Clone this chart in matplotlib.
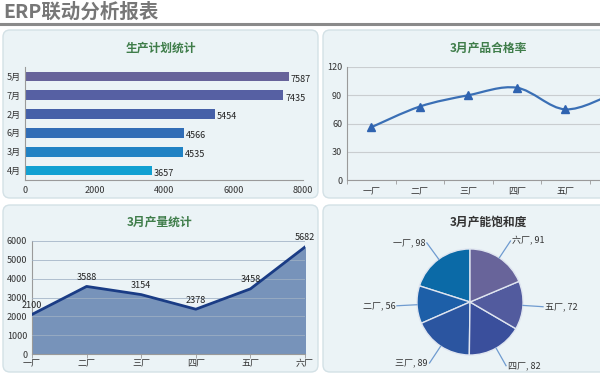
import numpy as np
import matplotlib
matplotlib.use("Agg")
import matplotlib.pyplot as plt
from matplotlib.patches import FancyBboxPatch, PathPatch
from matplotlib.path import Path

plt.rcParams['font.family'] = ['Noto Sans CJK SC', 'DejaVu Sans']

# data
plan_months = ['5月', '7月', '2月', '6月', '3月', '4月']
plan_values = [7587, 7435, 5454, 4566, 4535, 3657]
plan_colors = ['#67639a', '#5660a3', '#4560a8', '#316db6', '#2082c4', '#10a0d2']

plants = ['一厂', '二厂', '三厂', '四厂', '五厂', '六厂']
pass_rate = [56, 78, 90, 98, 75, 92]
output = [2100, 3588, 3154, 2378, 3458, 5682]
saturation = [98, 56, 89, 82, 72, 91]
pie_colors = ['#0b6aa7', '#1d5fa8', '#2b55a0', '#3a4f9c', '#525b9e', '#68649a']

W, H = 600, 375
fig = plt.figure(figsize=(6, 3.75), dpi=100)
fig.patch.set_facecolor('white')


def rect(x0, y0, x1, y1):
    return [x0 / W, 1 - y1 / H, (x1 - x0) / W, (y1 - y0) / H]


# background layer in pixel coords
bg = fig.add_axes([0, 0, 1, 1])
bg.set_xlim(0, W)
bg.set_ylim(H, 0)
bg.axis('off')
bg.text(3, 12, 'ERP联动分析报表', fontsize=14, fontweight='bold', color='#777777',
        va='center', ha='left')
bg.plot([0, W], [24, 24], color='#8a8a8a', lw=2.2)
for (x0, y0, x1, y1) in [(3, 30, 318, 198), (323, 30, 660, 198),
                         (3, 205, 318, 372), (323, 205, 660, 372)]:
    bg.add_patch(FancyBboxPatch((x0, y0), x1 - x0, y1 - y0,
                                boxstyle='round,pad=0,rounding_size=7',
                                fc='#ebf3f6', ec='#d3e1e6', lw=1))
title_kw = dict(fontsize=8.5, fontweight='bold', color='#3f7d4a', ha='center', va='center')
bg.text(161, 48, '生产计划统计', **title_kw)
bg.text(488, 48, '3月产品合格率', **title_kw)
bg.text(160, 222, '3月产量统计', **title_kw)
title_kw['color'] = '#333333'
bg.text(488, 222, '3月产能饱和度', **title_kw)


def style(ax):
    ax.set_facecolor('none')
    for s in ['top', 'right']:
        ax.spines[s].set_visible(False)
    for s in ['left', 'bottom']:
        ax.spines[s].set_color('#9a9a9a')
    ax.tick_params(labelsize=6.5, colors='#333333', length=3, width=0.6)
    ax.tick_params(axis='both', color='#9a9a9a')


# bar chart
ax1 = fig.add_axes(rect(25, 67, 303, 180))
style(ax1)
ypos = np.arange(len(plan_months))
ax1.barh(ypos, plan_values, height=0.52, color=plan_colors)
ax1.set_ylim(len(plan_months) - 0.5, -0.5)
ax1.set_xlim(0, 8000)
ax1.set_xticks([0, 2000, 4000, 6000, 8000])
ax1.set_yticks(ypos)
ax1.set_yticklabels(plan_months)
ax1.tick_params(axis='y', length=0, pad=3)
ax1.tick_params(axis='x', length=0, pad=4)
for y, v in zip(ypos, plan_values):
    ax1.text(v + 60, y + 0.15, str(v), fontsize=6.5, color='#222222', va='center', ha='left')

# line chart (smooth)
ax2 = fig.add_axes(rect(347, 67, 638, 180))
style(ax2)
xs = np.arange(len(plants))
ax2.set_xlim(-0.5, len(plants) - 0.5)
ax2.set_ylim(0, 120)
ax2.set_yticks([0, 30, 60, 90, 120])
ax2.yaxis.grid(True, color='#c9cdd0', lw=0.8)
ax2.set_axisbelow(True)
ax2.set_xticks(xs)
ax2.set_xticklabels(plants)
ax2.set_xticks(np.arange(len(plants) + 1) - 0.5, minor=True)
ax2.tick_params(axis='x', which='major', length=0, pad=5)
ax2.tick_params(axis='x', which='minor', length=3, color='#9a9a9a')
ax2.tick_params(axis='y', length=0)
pts = np.column_stack([xs, pass_rate]).astype(float)
ext = np.vstack([pts[0], pts, pts[-1]])
verts = [tuple(pts[0])]
codes = [Path.MOVETO]
for i in range(len(pts) - 1):
    p0, p1, p2, p3 = ext[i], ext[i + 1], ext[i + 2], ext[i + 3]
    verts += [tuple(p1 + (p2 - p0) / 6), tuple(p2 - (p3 - p1) / 6), tuple(p2)]
    codes += [Path.CURVE4] * 3
ax2.add_patch(PathPatch(Path(verts, codes), fc='none', ec='#3a6fb5', lw=1.6))
ax2.plot(xs, pass_rate, ls='none', marker='^', ms=6, color='#2f63b0')

# area chart
ax3 = fig.add_axes(rect(32, 241, 305, 354))
style(ax3)
xs3 = np.arange(len(plants))
ax3.set_xlim(0, len(plants) - 1)
ax3.set_ylim(0, 6000)
ax3.set_yticks(range(0, 6001, 1000))
ax3.set_xticks(xs3)
ax3.set_xticklabels(plants)
ax3.tick_params(axis='x', length=3, pad=1)
ax3.tick_params(axis='y', length=0)
ax3.fill_between(xs3, output, color='#7793ba', zorder=1)
ax3.yaxis.grid(True, color='#9fb0c4', lw=0.7, alpha=0.8, zorder=2)
ax3.set_axisbelow(False)
ax3.plot(xs3, output, color='#1a3c85', lw=2, zorder=3)
for x, v in zip(xs3, output):
    ax3.text(x, v + 250, str(v), fontsize=6.5, color='#222222', ha='center', va='bottom', zorder=4)

# pie chart
ax4 = fig.add_axes(rect(400, 232, 540, 372))
ax4.set_facecolor('none')
wedges, _ = ax4.pie(saturation, colors=pie_colors, startangle=90, counterclock=True,
                    wedgeprops=dict(ec='#dfe5f0', lw=1))
ax4.set_xlim(-1.32, 1.32)
ax4.set_ylim(-1.32, 1.32)
ax4.set_aspect('equal')
for w, name, v in zip(wedges, plants, saturation):
    ang = np.deg2rad((w.theta1 + w.theta2) / 2)
    c, s = np.cos(ang), np.sin(ang)
    ex, ey = 1.38 * c, 1.38 * s
    ha = 'left' if c > 0 else 'right'
    ax4.plot([c, ex], [s, ey], color='#6f9bd0', lw=0.9, clip_on=False)
    ax4.text(ex + (0.03 if c > 0 else -0.03), ey, f'{name}, {v}', fontsize=6.5,
             color='#333333', ha=ha, va='center', clip_on=False)

fig.savefig('out.png', dpi=100)
